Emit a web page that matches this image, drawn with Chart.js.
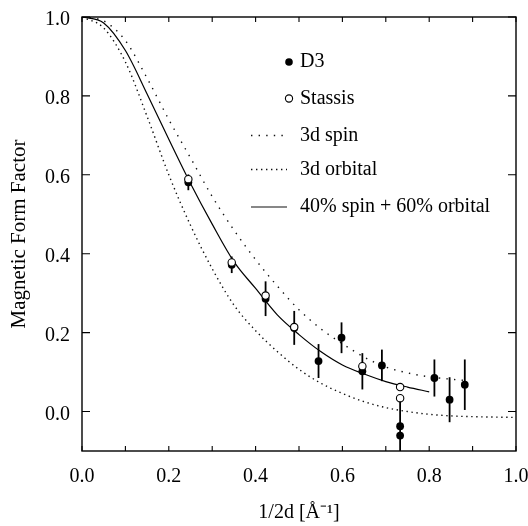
<!DOCTYPE html>
<html><head><meta charset="utf-8">
<script src="https://cdn.jsdelivr.net/npm/chart.js@4/dist/chart.umd.min.js"></script>
<style>html,body{margin:0;padding:0;background:#fff}</style>
</head><body>
<canvas id="c" width="528" height="526"></canvas>
<script>
// ---- data ----
const orbitalX = [0,0.05,0.1,0.15,0.2,0.25,0.3,0.35,0.4,0.45,0.5,0.55,0.6,0.65,0.7,0.75,0.8,0.85,0.9,0.95,1.0];
const orbitalY = [1.0,0.972,0.886,0.748,0.60,0.472,0.362,0.27,0.205,0.152,0.107,0.072,0.046,0.025,0.010,0.0,-0.007,-0.011,-0.013,-0.014,-0.015];
const spinX = [0,0.05,0.1,0.15,0.2,0.25,0.3,0.35,0.4,0.45,0.5,0.55,0.6,0.65,0.7,0.75,0.8,0.85,0.88];
const spinY = [1.0,0.99,0.94,0.845,0.74,0.643,0.545,0.46,0.385,0.318,0.258,0.21,0.172,0.138,0.113,0.098,0.088,0.082,0.079];
const mixX = [0,0.05,0.1,0.15,0.2,0.25,0.3,0.35,0.4,0.45,0.5,0.55,0.6,0.65,0.7,0.75,0.8];
const mixY = [1.0,0.985,0.915,0.805,0.69,0.578,0.475,0.38,0.312,0.245,0.195,0.152,0.118,0.095,0.076,0.062,0.05];
const d3X = [0.245,0.345,0.423,0.489,0.545,0.598,0.646,0.691,0.733,0.733,0.812,0.847,0.882];
const d3Y = [0.581,0.372,0.286,0.212,0.128,0.187,0.102,0.117,-0.037,-0.061,0.085,0.030,0.068];
const d3Err = [0.02,0.021,0.044,0.043,0.043,0.039,0.046,0.04,0.07,0,0.047,0.057,0.064];
const stassisX = [0.245,0.345,0.423,0.489,0.646,0.733,0.733];
const stassisY = [0.589,0.378,0.294,0.214,0.115,0.062,0.034];
const xTickVals = [0,0.2,0.4,0.6,0.8,1.0];
const yTickVals = [0,0.2,0.4,0.6,0.8,1.0];
const xMinorVals = [0,0.1,0.2,0.3,0.4,0.5,0.6,0.7,0.8,0.9,1.0];
const seriesLabels = ['D3','Stassis','3d spin','3d orbital','40% spin + 60% orbital'];
const xTitle = '1/2d [\u00C5\u207B\u00B9]';
const yTitle = 'Magnetic Form Factor';

// ---- styles ----
const FONT = "'Liberation Serif', 'Times New Roman', serif";
const spinDash = [1.4, 6.2];
const orbDash = [1.4, 3.6];
const pts = (xs, ys) => xs.map((x, i) => ({x, y: ys[i]}));

const helperPlugin = {
  id: 'helper',
  beforeDatasetsDraw(chart) {
    const {ctx, chartArea: a, scales: {x, y}} = chart;
    ctx.save();
    ctx.beginPath(); ctx.rect(a.left, a.top, a.width, a.height); ctx.clip();
    ctx.strokeStyle = '#000'; ctx.lineWidth = 1.8;
    d3X.forEach((v, i) => {
      if (!d3Err[i]) return;
      const px = x.getPixelForValue(v);
      ctx.beginPath();
      ctx.moveTo(px, y.getPixelForValue(d3Y[i] - d3Err[i]));
      ctx.lineTo(px, y.getPixelForValue(d3Y[i] + d3Err[i]));
      ctx.stroke();
    });
    ctx.restore();
  },
  afterDraw(chart) {
    const {ctx, chartArea: a, scales: {x, y}} = chart;
    ctx.save();
    // frame
    ctx.strokeStyle = '#000'; ctx.lineWidth = 1.4;
    ctx.strokeRect(a.left, a.top, a.width, a.height);
    // ticks
    ctx.lineWidth = 1.1;
    ctx.beginPath();
    yTickVals.forEach(v => {
      const py = y.getPixelForValue(v);
      ctx.moveTo(a.left, py); ctx.lineTo(a.left + 8, py);
      ctx.moveTo(a.right, py); ctx.lineTo(a.right - 8, py);
    });
    xMinorVals.forEach(v => {
      const px = x.getPixelForValue(v);
      ctx.moveTo(px, a.bottom); ctx.lineTo(px, a.bottom - 5);
      ctx.moveTo(px, a.top); ctx.lineTo(px, a.top + 5);
    });
    ctx.stroke();
    // legend
    const lx0 = 251, lx1 = 287, mx = 289, tx = 300;
    const rows = [62, 98.5, 135.5, 169.5, 207];
    ctx.font = '20px ' + FONT;
    ctx.fillStyle = '#000';
    ctx.textBaseline = 'middle';
    ctx.textAlign = 'left';
    const ds = chart.data.datasets;
    // D3
    ctx.beginPath(); ctx.arc(mx, rows[0], 3.8, 0, Math.PI * 2); ctx.fill();
    // Stassis
    ctx.beginPath(); ctx.arc(mx, rows[1], 3.6, 0, Math.PI * 2);
    ctx.fillStyle = '#fff'; ctx.fill(); ctx.lineWidth = 1.1; ctx.strokeStyle = '#000'; ctx.stroke();
    ctx.fillStyle = '#000';
    // lines
    const lineRow = (r, dash, w) => {
      ctx.save(); ctx.setLineDash(dash); ctx.lineWidth = w; ctx.strokeStyle = '#111';
      ctx.beginPath(); ctx.moveTo(lx0, r); ctx.lineTo(lx1, r); ctx.stroke(); ctx.restore();
    };
    lineRow(rows[2], spinDash, 1.4);
    lineRow(rows[3], orbDash, 1.4);
    lineRow(rows[4], [], 1.2);
    const order = ['D3','Stassis','3d spin','3d orbital','40% spin + 60% orbital'];
    order.forEach((lab, i) => {
      const d = ds.find(e => e.label === lab);
      ctx.fillText(d ? d.label : lab, tx, rows[i]);
    });
    ctx.restore();
  }
};

new Chart(document.getElementById('c'), {
  type: 'scatter',
  data: {
    datasets: [
      { label: seriesLabels[3], data: pts(orbitalX, orbitalY), showLine: true, borderColor: '#111',
        borderWidth: 1.4, borderDash: orbDash, pointRadius: 0, cubicInterpolationMode: 'monotone', order: 5 },
      { label: seriesLabels[2], data: pts(spinX, spinY), showLine: true, borderColor: '#111',
        borderWidth: 1.4, borderDash: spinDash, pointRadius: 0, cubicInterpolationMode: 'monotone', order: 4 },
      { label: seriesLabels[4], data: pts(mixX, mixY), showLine: true, borderColor: '#000',
        borderWidth: 1.2, pointRadius: 0, cubicInterpolationMode: 'monotone', order: 3 },
      { label: seriesLabels[0], data: pts(d3X, d3Y), pointRadius: 3.9, backgroundColor: '#000',
        borderColor: '#000', borderWidth: 0, order: 2 },
      { label: seriesLabels[1], data: pts(stassisX, stassisY), pointRadius: 3.7, backgroundColor: '#fff',
        borderColor: '#000', borderWidth: 1.1, order: 1 }
    ]
  },
  options: {
    responsive: false,
    animation: false,
    devicePixelRatio: 1,
    layout: { padding: { left: 0, right: 12, top: 17, bottom: 0 } },
    plugins: { legend: { display: false }, tooltip: { enabled: false } },
    elements: { line: { tension: 0 } },
    scales: {
      x: {
        type: 'linear', min: 0, max: 1.0,
        grid: { display: false, drawTicks: false },
        border: { display: false },
        afterBuildTicks: s => { s.ticks = xTickVals.map(v => ({value: v})); },
        afterFit: s => { s.height = 75; s.paddingLeft = 0; s.paddingRight = 0; },
        ticks: { padding: 13.5, color: '#000', font: { family: FONT, size: 20 }, maxRotation: 0,
          callback: v => Number(v).toFixed(1) },
        title: { display: true, text: xTitle, color: '#000', font: { family: FONT, size: 20 },
          padding: { top: 0, bottom: 1 } }
      },
      y: {
        type: 'linear', min: -0.1, max: 1.0,
        grid: { display: false, drawTicks: false },
        border: { display: false },
        afterBuildTicks: s => { s.ticks = yTickVals.map(v => ({value: v})); },
        afterFit: s => { s.width = 82; s.paddingTop = 0; s.paddingBottom = 0; },
        ticks: { padding: 12, labelOffset: 3, color: '#000', font: { family: FONT, size: 20 },
          callback: v => Number(v).toFixed(1) },
        title: { display: true, text: yTitle, color: '#000', font: { family: FONT, size: 21 },
          padding: { top: 7, bottom: 0 } }
      }
    }
  },
  plugins: [helperPlugin]
});
</script>
</body></html>
